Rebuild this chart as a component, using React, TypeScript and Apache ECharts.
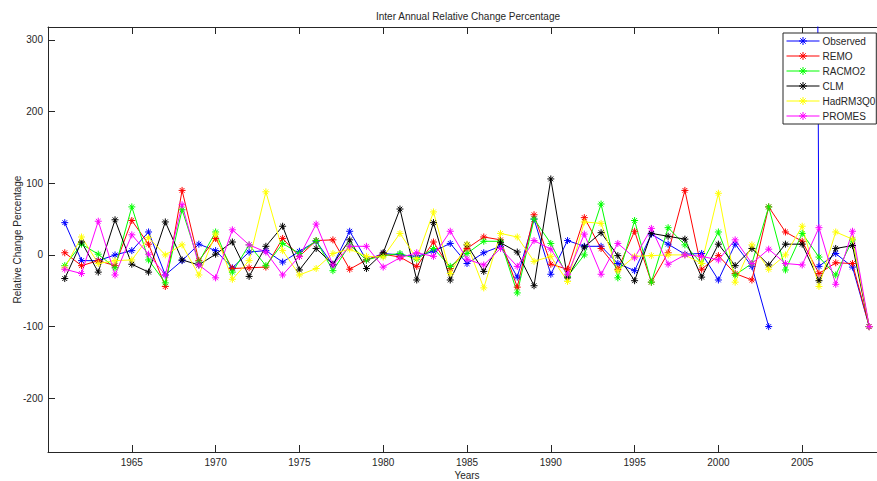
import React, { useEffect, useRef } from "react";
import * as echarts from "echarts";

// Years on the horizontal axis
const years = [
  1961, 1962, 1963, 1964, 1965, 1966, 1967, 1968, 1969, 1970,
  1971, 1972, 1973, 1974, 1975, 1976, 1977, 1978, 1979, 1980,
  1981, 1982, 1983, 1984, 1985, 1986, 1987, 1988, 1989, 1990,
  1991, 1992, 1993, 1994, 1995, 1996, 1997, 1998, 1999, 2000,
  2001, 2002, 2003, 2004, 2005, 2006, 2007, 2008, 2009,
];

// Inter-annual relative change (%) per source; null = undefined ratio,
// 2005 observed is a very large jump that runs off the top of the axes.
const observed = [
  45, -8, -8, 0, 6, 32, -28, -8, 15, 6,
  -18, 4, 6, -10, 5, 19, -14, 33, -7, 2,
  0, -2, 5, 16, -12, 3, 12, -31, 50, -27,
  20, 12, 12, -12, -22, 29, 15, 1, 2, -35,
  15, -16, -100, null, 5000, -16, 2, -17, -100,
];
const remo = [
  3, -15, -8, -15, 48, 15, -44, 90, -8, 23,
  -19, -18, -17, 23, -2, 20, 21, -20, -7, 1,
  -3, -16, 18, -19, 9, 25, 21, -45, 56, -13,
  -20, 52, 9, -20, 33, -38, 3, 90, -20, -1,
  -26, -35, 67, 32, 19, -26, -11, -12, -100,
];
const racmo2 = [
  -15, 15, 1, -18, 67, -7, -39, 63, -10, 32,
  -24, 14, -15, 16, 2, 20, -22, 14, -7, -1,
  2, -6, 9, -16, 2, 19, 19, -53, 50, 16,
  -30, 0, 71, -32, 48, -38, 38, 14, -12, 32,
  -28, -12, 67, -21, 30, -3, -28, 21, -100,
];
const clm = [
  -33, 18, -24, 49, -13, -24, 46, -7, -14, 1,
  18, -30, 12, 40, -21, 9, -13, 21, -19, 3,
  64, -35, 45, -35, 14, -23, 17, 4, -43, 106,
  -32, 11, 31, -1, -36, 30, 26, 22, -31, 15,
  -15, 9, -14, 15, 15, -36, 9, 13, -100,
];
const hadrm3q0 = [
  -18, 25, -12, -8, -7, 24, 0, 14, -28, 29,
  -34, -8, 88, 6, -28, -19, 2, 8, -2, -3,
  30, -5, 60, -26, 15, -46, 30, 25, -9, -2,
  -37, 46, 44, -22, -2, -1, 0, 0, -12, 86,
  -38, 14, -20, 0, 40, -44, 32, 22, -100,
];
const promes = [
  -20, -26, 47, -28, 28, 1, -28, 70, -14, -32,
  35, 14, 4, -28, -2, 43, -14, 12, 12, -17,
  -4, 3, -2, 33, -6, -14, 9, -16, 20, 8,
  -27, 29, -27, 16, -4, 37, -13, 0, -2, -7,
  21, -12, 8, -12, -14, 38, -41, 33, -100,
];

const seriesNames = ["Observed", "REMO", "RACMO2", "CLM", "HadRM3Q0", "PROMES"];
const seriesColors = ["#0000ff", "#ff0000", "#00ff00", "#000000", "#ffff00", "#ff00ff"];
const seriesValues = [observed, remo, racmo2, clm, hadrm3q0, promes];

const yTicks = [-200, -100, 0, 100, 200, 300];
const xTicks = [1965, 1970, 1975, 1980, 1985, 1990, 1995, 2000, 2005];

// eight-armed asterisk marker
const ASTERISK = "path://M5 0L5 10M0 5L10 5M1.6 1.6L8.4 8.4M1.6 8.4L8.4 1.6";

const FONT = "'Liberation Sans', Arial, sans-serif";
const AXIS = "#262626";

export default function App() {
  const ref = useRef<HTMLDivElement>(null);

  useEffect(() => {
    if (!ref.current) return;
    const chart = echarts.init(ref.current, undefined, { renderer: "svg" });

    const series = seriesNames.map((name, i) => ({
      name,
      type: "line",
      data: years.map((y, k) => [y, seriesValues[i][k]]),
      connectNulls: false,
      clip: true,
      symbol: ASTERISK,
      symbolSize: 7,
      lineStyle: { color: seriesColors[i], width: 1 },
      itemStyle: { color: seriesColors[i], borderColor: seriesColors[i], borderWidth: 1 },
      emphasis: { disabled: true },
    }));

    chart.setOption({
      animation: false,
      backgroundColor: "#ffffff",
      textStyle: { fontFamily: FONT },
      grid: {
        left: 48,
        top: 27,
        right: -9,
        bottom: 29,
        containLabel: false,
        outerBoundsMode: "none",
      },
      xAxis: [
        {
          type: "value",
          min: 1960,
          max: 2010,
          name: "Years",
          nameLocation: "middle",
          nameGap: 18,
          nameMoveOverlap: false,
          nameTextStyle: { color: AXIS, fontSize: 10, fontFamily: FONT },
          axisLine: { show: true, onZero: false, lineStyle: { color: AXIS, width: 1 } },
          axisTick: { show: true, inside: true, length: 7, customValues: xTicks, lineStyle: { color: AXIS } },
          axisLabel: {
            customValues: xTicks,
            formatter: (v: number) => String(v),
            color: AXIS,
            fontSize: 10,
            margin: 5,
            fontFamily: FONT,
          },
          splitLine: { show: false },
        },
        {
          type: "value",
          position: "top",
          min: 1960,
          max: 2010,
          axisLine: { show: true, onZero: false, lineStyle: { color: AXIS, width: 1 } },
          axisTick: { show: true, inside: true, length: 7, customValues: xTicks, lineStyle: { color: AXIS } },
          axisLabel: { show: false },
          splitLine: { show: false },
        },
      ],
      yAxis: {
        type: "value",
        min: -275,
        max: 318,
        name: "Relative Change Percentage",
        nameLocation: "middle",
        nameGap: 26,
        nameMoveOverlap: false,
        nameTextStyle: { color: AXIS, fontSize: 10, fontFamily: FONT },
        axisLine: { show: true, onZero: false, lineStyle: { color: AXIS, width: 1 } },
        axisTick: { show: true, inside: true, length: 7, customValues: yTicks, lineStyle: { color: AXIS } },
        axisLabel: { customValues: yTicks, color: AXIS, fontSize: 10, margin: 5, fontFamily: FONT },
        splitLine: { show: false },
      },
      legend: {
        orient: "vertical",
        left: 783,
        top: 33,
        padding: [3, 1, 3, 3],
        itemWidth: 33,
        itemHeight: 10,
        itemGap: 5,
        backgroundColor: "#ffffff",
        borderColor: AXIS,
        borderWidth: 1,
        borderRadius: 0,
        itemStyle: { borderWidth: 1 },
        lineStyle: { width: 1 },
        textStyle: { color: AXIS, fontSize: 10, fontFamily: FONT, padding: [0, 0, 0, -2] },
        data: seriesNames,
      },
      graphic: [
        {
          type: "text",
          x: 468,
          y: 16,
          style: {
            text: "Inter Annual Relative Change Percentage",
            align: "center",
            verticalAlign: "middle",
            fontSize: 10,
            fontFamily: FONT,
            fill: AXIS,
          },
        },
      ],
      series,
    });

    return () => chart.dispose();
  }, []);

  return (
    <div
      ref={ref}
      style={{ position: "absolute", left: 0, top: 0, width: 877, height: 481 }}
    />
  );
}
